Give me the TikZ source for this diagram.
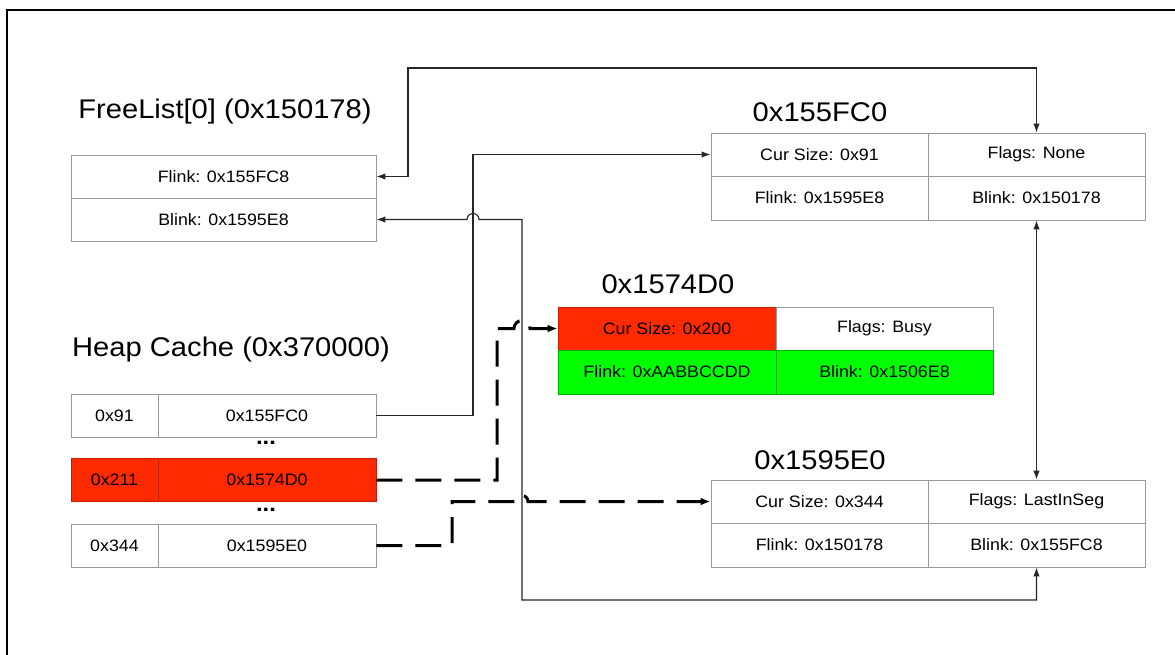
\documentclass[tikz,border=0pt]{standalone}
\usepackage{fontspec}
\setmainfont[FakeStretch=1.08]{Liberation Sans}
\usetikzlibrary{arrows.meta,calc}
\definecolor{cellborder}{gray}{0.6}
\definecolor{hotred}{RGB}{255,42,0}
\definecolor{redborder}{RGB}{200,30,0}
\definecolor{hotgreen}{RGB}{0,255,0}
\definecolor{greenborder}{RGB}{0,170,0}
\definecolor{wirecol}{gray}{0.15}
\tikzset{
  cell/.style={draw=cellborder, line width=0.9pt, inner sep=0pt, font=\fontsize{16.5}{18}\selectfont},
  redcell/.style={cell, fill=hotred, draw=redborder},
  greencell/.style={cell, fill=hotgreen, draw=greenborder},
  boxtitle/.style={inner sep=0pt, font=\fontsize{27}{31}\selectfont},
  dotsnode/.style={inner sep=0pt, font=\fontsize{22}{24}\selectfont\bfseries},
  wire/.style={draw=wirecol, line width=1.1pt},
  thin tips/.style={{Latex[length=9pt,width=6.5pt]}-{Latex[length=9pt,width=6.5pt]}},
  one tip/.style={-{Latex[length=9pt,width=6.5pt]}},
  dashwire/.style={draw=black, line width=3pt, dash pattern=on 26pt off 13pt, -{Latex[length=10pt,width=8pt]}},
}
\begin{document}
\begin{tikzpicture}[x=1pt,y=-1pt]
\useasboundingbox (0,0) rectangle (1175,654);
\fill[white] (0,0) rectangle (1175,654);
% frame (only top and left edges visible)
\draw[line width=2.6pt] (7,10) rectangle (1200,680);

% ---- titles
\node[boxtitle] (t-free) at (225,112) {FreeList[0] (0x150178)};
\node[boxtitle] (t-a) at (820,112) {0x155FC0};
\node[boxtitle] (t-b) at (668,284) {0x1574D0};
\node[boxtitle] (t-heap) at (231,350) {Heap Cache (0x370000)};
\node[boxtitle] (t-c) at (820,460) {0x1595E0};

% ---- FreeList[0]
\node[cell, minimum width=305pt, minimum height=43pt] (fl-f) at (223.5,176.5) {Flink: 0x155FC8};
\node[cell, minimum width=305pt, minimum height=43pt] (fl-b) at (223.5,219.5) {Blink: 0x1595E8};

% ---- chunk 0x155FC0
\node[cell, minimum width=217pt, minimum height=43pt] (a-cs) at (819.5,154.5) {Cur Size: 0x91};
\node[cell, minimum width=217pt, minimum height=43pt] (a-fl) at (1036.5,154.5) {Flags: None};
\node[cell, minimum width=217pt, minimum height=44pt] (a-fk) at (819.5,198) {Flink: 0x1595E8};
\node[cell, minimum width=217pt, minimum height=44pt] (a-bk) at (1036.5,198) {Blink: 0x150178};

% ---- chunk 0x1574D0
\node[redcell, minimum width=218pt, minimum height=43pt] (b-cs) at (667,328.5) {Cur Size: 0x200};
\node[cell, minimum width=217pt, minimum height=43pt] (b-fl) at (884.5,328.5) {Flags: Busy};
\node[greencell, minimum width=218pt, minimum height=44pt] (b-fk) at (667,372) {Flink: 0xAABBCCDD};
\node[greencell, minimum width=217pt, minimum height=44pt] (b-bk) at (884.5,372) {Blink: 0x1506E8};

% ---- chunk 0x1595E0
\node[cell, minimum width=217pt, minimum height=43pt] (c-cs) at (819.5,501.5) {Cur Size: 0x344};
\node[cell, minimum width=217pt, minimum height=43pt] (c-fl) at (1036.5,501.5) {Flags: LastInSeg};
\node[cell, minimum width=217pt, minimum height=44pt] (c-fk) at (819.5,545) {Flink: 0x150178};
\node[cell, minimum width=217pt, minimum height=44pt] (c-bk) at (1036.5,545) {Blink: 0x155FC8};

% ---- Heap cache
\node[cell, minimum width=87pt, minimum height=43pt] (r1a) at (114.5,415.5) {0x91};
\node[cell, minimum width=218pt, minimum height=43pt] (r1b) at (267,415.5) {0x155FC0};
\node[dotsnode] (dots1) at (266,443) {...};
\node[redcell, minimum width=87pt, minimum height=43pt] (r2a) at (114.5,480) {0x211};
\node[redcell, minimum width=218pt, minimum height=43pt] (r2b) at (267,480) {0x1574D0};
\node[dotsnode] (dots2) at (266,510) {...};
\node[cell, minimum width=87pt, minimum height=43pt] (r3a) at (114.5,545.5) {0x344};
\node[cell, minimum width=218pt, minimum height=43pt] (r3b) at (267,545.5) {0x1595E0};

% ---- connectors
\coordinate (k1) at (408,68);
\draw[wire, thin tips] (fl-f.east) -| (k1) -| (a-fl.north);

\coordinate (k2) at (473,300);
\draw[wire, one tip] (r1b.east) -| (k2) |- (a-cs.west);

\coordinate (k3) at (522,600);
\coordinate (k3b) at (522,219.5);
\draw[wire, thin tips] (c-bk.south) |- (k3) -- (k3b) -- (479,219.5)
   arc[start angle=0, end angle=180, radius=6pt] -- (fl-b.east);

\draw[wire, thin tips] (a-bk.south) -- (c-fl.north);

\draw[dashwire] (r2b.east) -- (497,480) -- (497,328.5) -- (514,328.5)
   arc[start angle=180, end angle=0, radius=8pt] -- (b-cs.west);

\draw[dashwire] (r3b.east) -- (452,545.5) -- (452,501.5) -- (516,501.5)
   arc[start angle=180, end angle=0, radius=6pt] -- (c-cs.west);
\end{tikzpicture}
\end{document}
